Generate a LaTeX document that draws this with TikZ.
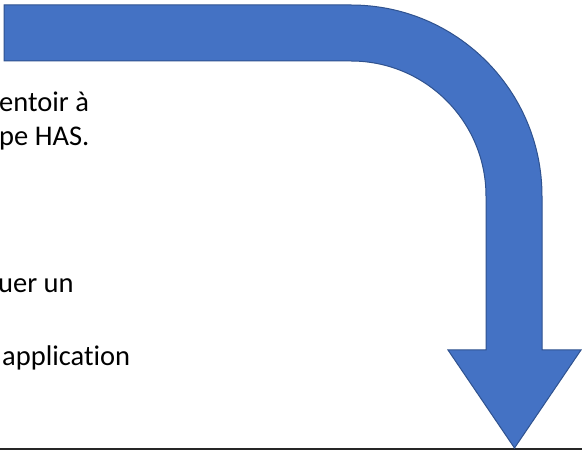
\documentclass[tikz,border=0pt]{standalone}
\usepackage{fontspec}
\setmainfont{Carlito}[Ligatures=NoCommon]
\definecolor{arrowfill}{HTML}{4472C4}
\definecolor{arrowline}{HTML}{2F528F}
\definecolor{rulecol}{HTML}{262626}
\tikzset{
  bentarrow/.style={fill=arrowfill, draw=arrowline, line width=1pt, line join=miter},
  bodytext/.style={anchor=base west, inner sep=0pt, font=\fontsize{28.5}{34}\selectfont, text=black},
  baseline rule/.style={draw=rulecol, line width=1.6pt}
}
\begin{document}
\begin{tikzpicture}[x=1pt,y=1pt]
\useasboundingbox (0,0) rectangle (582,450);
\clip (0,0) rectangle (582,450);
\fill[white] (0,0) rectangle (582,450);
% bottom rule
\coordinate (ruleL) at (0,1);
\coordinate (ruleR) at (582,1);
\draw[baseline rule] (ruleL) -- (ruleR);
% bent arrow
\draw[bentarrow] (4,445) -- (351,445)
  arc[start angle=90, end angle=0, radius=191] -- (542,100) -- (581,100)
  -- (514.5,2) -- (448,100) -- (486,100) -- (486,254)
  arc[start angle=0, end angle=90, radius=135] -- (4,389) -- cycle;
% text fragments
\node[bodytext] (t1) at (-1,338) {entoir à};
\node[bodytext] (t2) at (-1,304) {pe HAS.};
\node[bodytext] (t3) at (-2,157) {uer un};
\node[bodytext] (t4) at (2,84) {application};
\end{tikzpicture}
\end{document}
